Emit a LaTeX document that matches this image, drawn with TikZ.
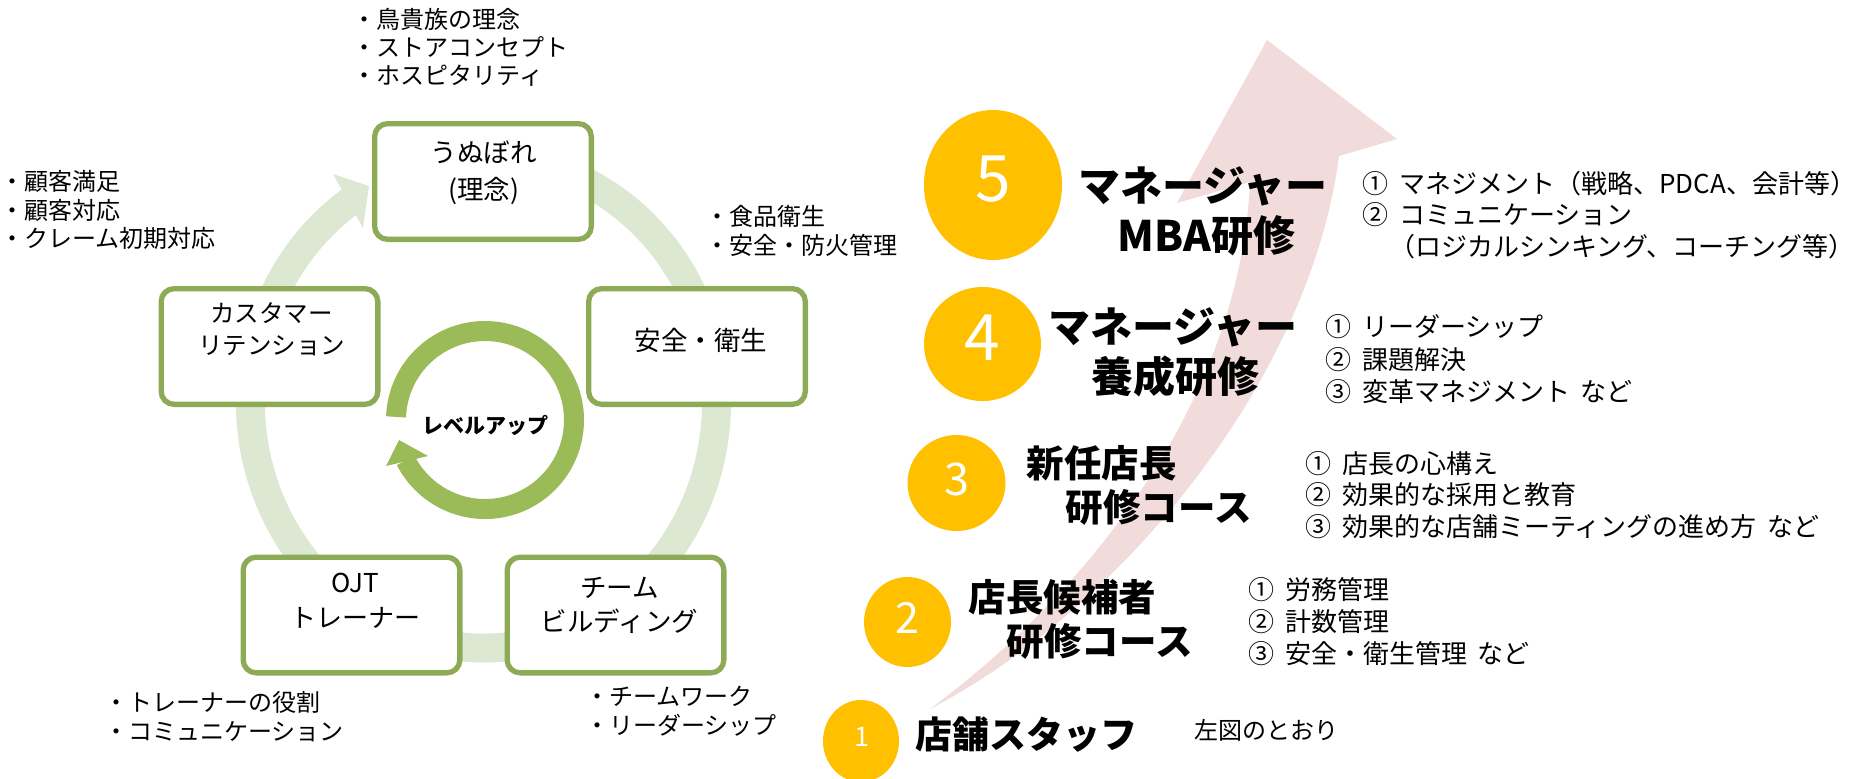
\documentclass[tikz,border=0pt]{standalone}
\usepackage{fontspec}
\setmainfont{Noto Sans CJK JP}
\usetikzlibrary{shapes.geometric,calc}
\definecolor{boxgreen}{HTML}{8DAB57}
\definecolor{ringgreen}{HTML}{9BBB59}
\definecolor{paleg}{HTML}{DDE8D3}
\definecolor{gold}{HTML}{FFC000}
\definecolor{pinkc}{HTML}{F2DCDB}
\newcommand\fsz[1]{\fontsize{#1}{#1}\selectfont}
\newcommand\gapw{\hspace{0.4em}}
\begin{document}
\begin{tikzpicture}[x=0.5pt, y=-0.5pt,
  box/.style={draw=boxgreen, line width=2.65pt, fill=white, rounded corners=6.5pt,
              minimum width=108.35pt, minimum height=57.85pt, inner sep=0pt},
  note/.style={inner sep=0pt, anchor=base west, font=\fsz{12pt}},
  btx/.style={inner sep=0pt, anchor=base, font=\fsz{#1}},
  lst/.style={inner sep=0pt, anchor=base west, font=\fsz{13pt}},
  hd/.style={inner sep=0pt, anchor=base west, font=\bfseries\fsz{#1}},
  badge/.style={ellipse, fill=gold, draw=none, inner sep=0pt},
  digit/.style={inner sep=0pt, anchor=base, text=white, font=\fsz{#1}},
  ]
\useasboundingbox (0,0) rectangle (1873,778);

% ---------- pink growth arrow ----------
\fill[pinkc] (930,709) .. controls (1090,590) and (1240,400) .. (1250,182)
  -- (1177,203) -- (1267,40) -- (1397,139) -- (1339,156)
  .. controls (1310,380) and (1120,610) .. (930,709) -- cycle;

% ---------- outer pale cycle ring ----------
\coordinate (rc) at (483.5,402.6);
\draw[paleg, line width=14.5pt] ($(rc)+(-80:233 and 245.4)$)
  arc[start angle=-80, end angle=236, x radius=233, y radius=245.4];
\fill[paleg] (333,174) -- (369,186) -- (363,228) -- cycle;

% ---------- inner level-up ring ----------
\coordinate (ic) at (485,420);
\draw[ringgreen, line width=10pt] ($(ic)+(-178:89)$)
  arc[start angle=-178, end angle=153, radius=89];
\fill[ringgreen] (399,440) -- (386,466) -- (428,456) -- cycle;
\node[inner sep=0pt, anchor=base, font=\bfseries\fsz{10.5pt}] (lvl) at (485,433.7) {レベルアップ};

% ---------- boxes ----------
\node[box] (b1) at (483,181.5) {};
\node[box] (b2) at (697,346.5) {};
\node[box] (b3) at (615.5,615) {};
\node[box] (b4) at (351.5,615) {};
\node[box] (b5) at (269.5,346.5) {};

\node[btx=13.25pt] (b1a) at (483.5,162.8) {うぬぼれ};
\node[btx=13.25pt] (b1b) at (483.5,199.4) {(理念)};
\node[btx=13.25pt] (b2a) at (701,350.1) {安全・衛生};
\node[btx=13.25pt] (b3a) at (619.5,597.1) {チーム};
\node[btx=13.25pt] (b3b) at (619.5,631.1) {ビルディング};
\node[btx=13pt] (b4a) at (355,592.5) {OJT};
\node[btx=13pt] (b4b) at (355,627.4) {トレーナー};
\node[btx=12.25pt] (b5a) at (271.5,322.3) {カスタマー};
\node[btx=12.25pt] (b5b) at (271.5,354.3) {リテンション};

% ---------- annotations ----------
\node[note] (n1a) at (352.5,28.4) {・鳥貴族の理念};
\node[note] (n1b) at (352.5,56.3) {・ストアコンセプト};
\node[note] (n1c) at (352.5,84.1) {・ホスピタリティ};
\node[note] (n2a) at (704.7,225.8) {・食品衛生};
\node[note] (n2b) at (704.7,254.1) {・安全・防火管理};
\node[note] (n3a) at (584.7,705.8) {・チームワーク};
\node[note] (n3b) at (584.7,734.1) {・リーダーシップ};
\node[note] (n4a) at (104,711.8) {・トレーナーの役割};
\node[note] (n4b) at (104,740.8) {・コミュニケーション};
\node[note] (n5a) at (0,190.8) {・顧客満足};
\node[note] (n5b) at (0,219.1) {・顧客対応};
\node[note] (n5c) at (0,247.4) {・クレーム初期対応};

% ---------- level badges ----------
\node[badge, minimum width=69pt, minimum height=75pt] (c5) at (993,185) {};
\node[badge, minimum width=58.5pt, minimum height=57pt] (c4) at (982.5,344) {};
\node[badge, minimum width=49pt, minimum height=48pt] (c3) at (956.5,483) {};
\node[badge, minimum width=43.5pt, minimum height=45pt] (c2) at (907.5,622) {};
\node[badge, minimum width=38pt, minimum height=41pt] (c1) at (861,741) {};
\node[digit=32pt] (d5) at (993,201.7) {5};
\node[digit=32pt] (d4) at (982.5,360) {4};
\node[digit=22.5pt] (d3) at (956.7,495) {3};
\node[digit=21.5pt] (d2) at (907.5,633.3) {2};
\node[digit=13.5pt] (d1) at (861.7,746.7) {1};

% ---------- headings ----------
\node[hd=21pt] (h5a) at (1078,201) {マネージャー};
\node[hd=21pt] (h5b) at (1117,251) {MBA研修};
\node[hd=21pt] (h4a) at (1048,342.5) {マネージャー};
\node[hd=21pt] (h4b) at (1091,392.5) {養成研修};
\node[hd=18.75pt] (h3a) at (1026.5,477.3) {新任店長};
\node[hd=18.75pt] (h3b) at (1065.5,521.8) {研修コース};
\node[hd=18.75pt] (h2a) at (968.5,611.3) {店長候補者};
\node[hd=18.75pt] (h2b) at (1006.5,655.3) {研修コース};
\node[hd=18.5pt] (h1) at (915.5,748.1) {店舗スタッフ};

% ---------- course contents ----------
\node[lst] (l5a) at (1362.5,193.2) {①\gapw マネジメント（戦略、PDCA、会計等）};
\node[lst] (l5b) at (1362.5,224.9) {②\gapw コミュニケーション};
\node[lst] (l5c) at (1389,256.6) {（ロジカルシンキング、コーチング等）};
\node[lst] (l4a) at (1325.5,336.6) {①\gapw リーダーシップ};
\node[lst] (l4b) at (1325.5,369.9) {②\gapw 課題解決};
\node[lst] (l4c) at (1325.5,401.6) {③\gapw 変革マネジメント\gapw など};
\node[lst] (l3a) at (1305.5,473.2) {①\gapw 店長の心構え};
\node[lst] (l3b) at (1305.5,504.9) {②\gapw 効果的な採用と教育};
\node[lst] (l3c) at (1305.5,536.6) {③\gapw 効果的な店舗ミーティングの進め方\gapw など};
\node[lst] (l2a) at (1248.5,599.9) {①\gapw 労務管理};
\node[lst] (l2b) at (1248.5,631.6) {②\gapw 計数管理};
\node[lst] (l2c) at (1248.5,663.2) {③\gapw 安全・衛生管理\gapw など};
\node[note] (l1) at (1194,739.1) {左図のとおり};
\end{tikzpicture}
\end{document}
